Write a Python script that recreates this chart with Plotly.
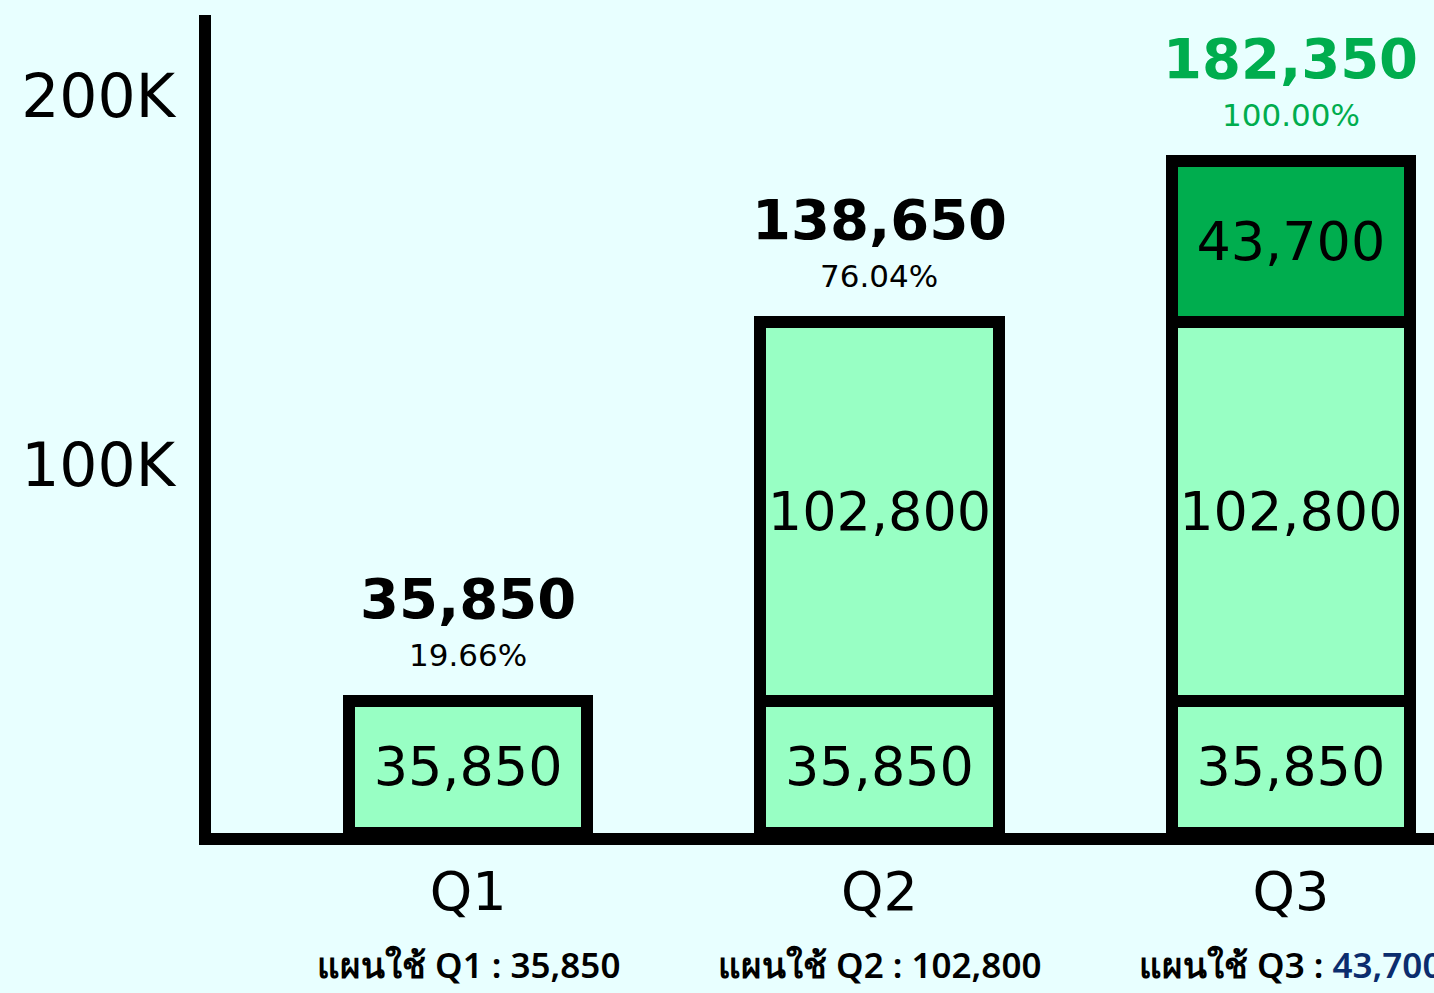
import plotly.graph_objects as go

quarters = ["Q1", "Q2", "Q3"]
x_pos = [0, 1, 2]
seg_q1 = [35850, 35850, 35850]
seg_q2 = [None, 102800, 102800]
seg_q3 = [None, None, 43700]
totals = [35850, 138650, 182350]
percents = ["19.66%", "76.04%", "100.00%"]
plan_prefix = ["แผนใช้ Q1 : ", "แผนใช้ Q2 : ", "แผนใช้ Q3 : "]
plan_values = ["35,850", "102,800", "43,700"]
plan_value_colors = ["#000000", "#000000", "#0B2D6E"]
total_colors = ["#000000", "#000000", "#00AD4E"]
y_tick_vals = [100000, 200000]
y_tick_text = ["100K", "200K"]

BG = "#E8FFFF"
LIGHT = "#98FFC4"
DARK = "#00AD4E"
NUMFONT = "DejaVu Sans"


def fmt(v):
    return [f"{x:,}" if x is not None else "" for x in v]


fig = go.Figure()
for seg, color in [(seg_q1, LIGHT), (seg_q2, LIGHT), (seg_q3, DARK)]:
    fig.add_trace(go.Bar(
        x=x_pos, y=seg, width=0.58,
        marker=dict(color=color, line=dict(color="black", width=12)),
        text=fmt(seg), textposition="inside", insidetextanchor="middle",
        textangle=0, constraintext="none",
        textfont=dict(family=NUMFONT, size=54, color="black"),
        hoverinfo="skip", showlegend=False,
    ))

for i, x in enumerate(x_pos):
    fig.add_annotation(x=x, y=totals[i], xref="x", yref="y", yanchor="bottom",
                       yshift=68, showarrow=False, text=f"{totals[i]:,}",
                       font=dict(family=NUMFONT, size=56, color=total_colors[i], weight=700))
    fig.add_annotation(x=x, y=totals[i], xref="x", yref="y", yanchor="bottom",
                       yshift=26, showarrow=False, text=percents[i],
                       font=dict(family=NUMFONT, size=31, color=total_colors[i]))
    fig.add_annotation(x=x, y=0, xref="x", yref="paper", yanchor="middle",
                       yshift=-131, showarrow=False,
                       text=f"{plan_prefix[i]}<span style='color:{plan_value_colors[i]}'>{plan_values[i]}</span>",
                       font=dict(family="Noto Sans", size=35, color="black", weight=600))

fig.update_layout(
    width=1434, height=993,
    paper_bgcolor=BG, plot_bgcolor=BG,
    margin=dict(l=211, r=0, t=15, b=160),
    barmode="stack",
)
fig.update_xaxes(
    range=[-0.625, 2.348], tickvals=x_pos, ticktext=quarters,
    tickfont=dict(family=NUMFONT, size=54, color="black"),
    showline=True, linecolor="black", linewidth=12, showgrid=False,
    zeroline=False, ticks="", ticklabelstandoff=0,
)
fig.update_yaxes(
    range=[0, 222000], tickvals=y_tick_vals, ticktext=y_tick_text,
    tickfont=dict(family=NUMFONT, size=60, color="black"),
    showline=True, linecolor="black", linewidth=12, showgrid=False,
    zeroline=False, ticks="", ticklabelstandoff=12,
)

fig.write_html(
    "out.html",
    config={"displayModeBar": False},
    post_script="document.body.style.margin='0';document.body.style.overflow='hidden';",
)
